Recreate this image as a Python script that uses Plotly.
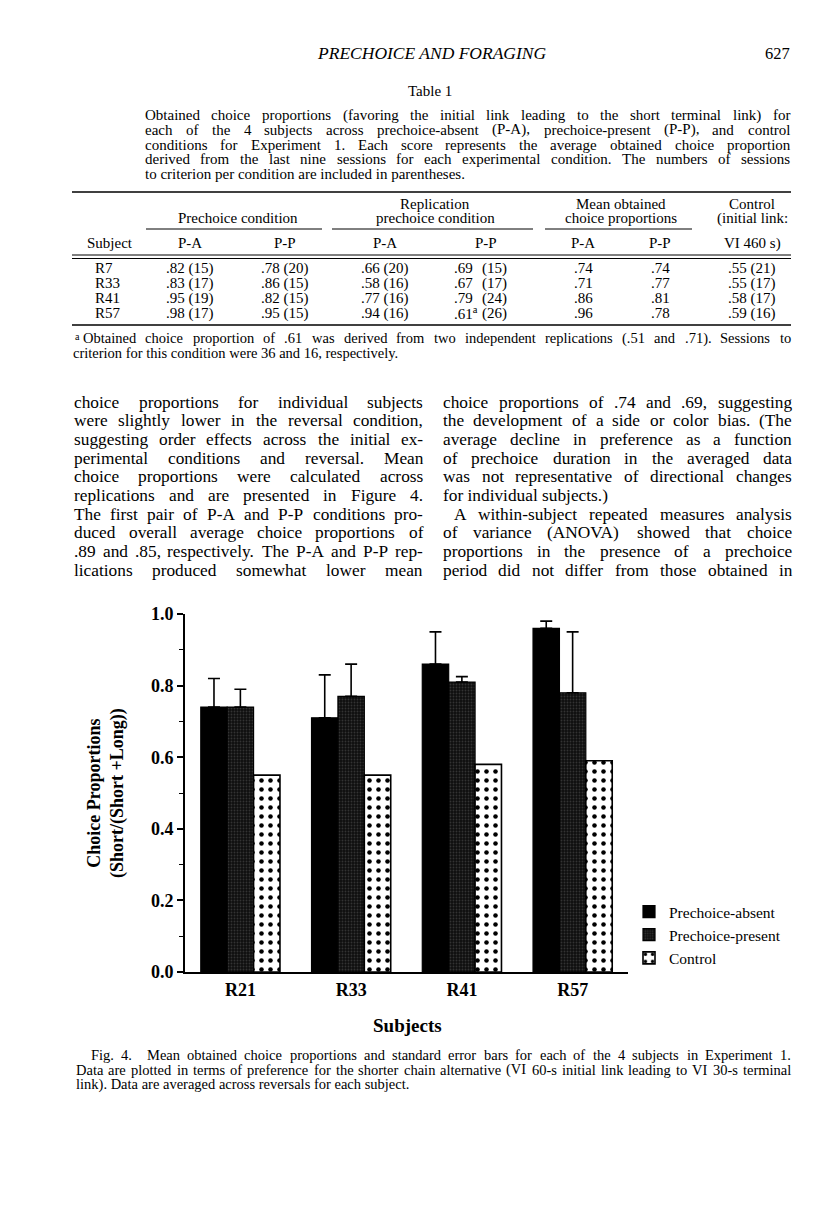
import plotly.graph_objects as go

# ---------------- chart data ----------------
subjects = ["R21", "R33", "R41", "R57"]
absent = [0.74, 0.71, 0.86, 0.96]
present = [0.74, 0.77, 0.81, 0.78]
control = [0.55, 0.55, 0.58, 0.59]
absent_err = [0.08, 0.12, 0.09, 0.02]
present_err = [0.05, 0.09, 0.015, 0.17]
series_names = ["Prechoice-absent", "Prechoice-present", "Control"]
y_ticks = [0.0, 0.2, 0.4, 0.6, 0.8, 1.0]

# ---------------- table data ----------------
tbl_subjects = ["R7", "R33", "R41", "R57"]
tbl_pa1 = [".82 (15)", ".83 (17)", ".95 (19)", ".98 (17)"]
tbl_pp1 = [".78 (20)", ".86 (15)", ".82 (15)", ".95 (15)"]
tbl_pa2 = [".66 (20)", ".58 (16)", ".77 (16)", ".94 (16)"]
tbl_pp2_val = [".69", ".67", ".79", ".61<sup>a</sup>"]
tbl_pp2_n = ["(15)", "(17)", "(24)", "(26)"]
tbl_mpa = [".74", ".71", ".86", ".96"]
tbl_mpp = [".74", ".77", ".81", ".78"]
tbl_ctrl = [".55 (21)", ".55 (17)", ".58 (17)", ".59 (16)"]

table_caption = [
    "Obtained choice proportions (favoring the initial link leading to the short terminal link) for",
    "each of the 4 subjects across prechoice-absent (P-A), prechoice-present (P-P), and control",
    "conditions for Experiment 1. Each score represents the average obtained choice proportion",
    "derived from the last nine sessions for each experimental condition. The numbers of sessions",
    "to criterion per condition are included in parentheses.",
]
footnote = [
    "Obtained choice proportion of .61 was derived from two independent replications (.51 and .71). Sessions to",
    "criterion for this condition were 36 and 16, respectively.",
]
left_col = [
    "choice proportions for individual subjects",
    "were slightly lower in the reversal condition,",
    "suggesting order effects across the initial ex-",
    "perimental conditions and reversal. Mean",
    "choice proportions were calculated across",
    "replications and are presented in Figure 4.",
    "The first pair of P-A and P-P conditions pro-",
    "duced overall average choice proportions of",
    ".89 and .85, respectively. The P-A and P-P rep-",
    "lications produced somewhat lower mean",
]
right_col = [
    "choice proportions of .74 and .69, suggesting",
    "the development of a side or color bias. (The",
    "average decline in preference as a function",
    "of prechoice duration in the averaged data",
    "was not representative of directional changes",
    "for individual subjects.)",
    "A within-subject repeated measures analysis",
    "of variance (ANOVA) showed that choice",
    "proportions in the presence of a prechoice",
    "period did not differ from those obtained in",
]
fig_caption = [
    "Fig. 4.\u00a0\u00a0 Mean obtained choice proportions and standard error bars for each of the 4 subjects in Experiment 1.",
    "Data are plotted in terms of preference for the shorter chain alternative (VI 60-s initial link leading to VI 30-s terminal",
    "link). Data are averaged across reversals for each subject.",
]

# ---------------- page geometry (reference page pixels) ----------------
PAGE_W, PAGE_H = 816, 1207
BODY_MARGIN = 8                      # browser default body margin
W, H = PAGE_W - 2 * BODY_MARGIN, PAGE_H - 2 * BODY_MARGIN
PL, PR, PT, PB = 185, 628, 614, 972  # plot area on the page
SERIF = "Liberation Serif"


def px(x):
    return (x - PL) / (PR - PL)


def py(y):
    return (PB - y) / (PB - PT)


TIMES = {' ': 250, '!': 333, '"': 408, '#': 500, '$': 500, '%': 833, '&': 778, "'": 333,
         '(': 333, ')': 333, '*': 500, '+': 564, ',': 250, '-': 333, '.': 250, '/': 278,
         ':': 278, ';': 278, '<': 564, '=': 564, '>': 564, '?': 444, '@': 921,
         'A': 722, 'B': 667, 'C': 667, 'D': 722, 'E': 611, 'F': 556, 'G': 722, 'H': 722,
         'I': 333, 'J': 389, 'K': 722, 'L': 611, 'M': 889, 'N': 722, 'O': 722, 'P': 556,
         'Q': 722, 'R': 667, 'S': 556, 'T': 611, 'U': 722, 'V': 722, 'W': 944, 'X': 722,
         'Y': 722, 'Z': 611, 'a': 444, 'b': 500, 'c': 444, 'd': 500, 'e': 444, 'f': 333,
         'g': 500, 'h': 500, 'i': 278, 'j': 278, 'k': 500, 'l': 278, 'm': 778, 'n': 500,
         'o': 500, 'p': 500, 'q': 500, 'r': 333, 's': 389, 't': 278, 'u': 500, 'v': 500,
         'w': 722, 'x': 500, 'y': 500, 'z': 444, '\u00a0': 250}
for d in "0123456789":
    TIMES[d] = 500


def tw(s, size):
    return sum(TIMES.get(c, 500) for c in s) * size / 1000.0


def fit_size(lines, width, factor, cap):
    return min(cap, min(width / tw(s, 1.0) for s in lines) * factor)


annotations = []


def txt(x, y, text, size, anchor="left", weight="normal", style="normal", angle=0):
    annotations.append(dict(
        x=px(x), y=py(y), xref="paper", yref="paper", text=text, showarrow=False,
        xanchor=anchor, yanchor="middle", textangle=angle, borderpad=0,
        font=dict(family=SERIF, size=size, color="black", weight=weight, style=style),
    ))


def line_text(x0, x1, y, s, size, justify=True):
    words = s.split(" ")
    if not justify or len(words) < 2:
        txt(x0, y, s, size)
        return
    widths = [tw(w, size) for w in words]
    gap = (x1 - x0 - sum(widths)) / (len(words) - 1)
    x = x0
    for w, wd in zip(words, widths):
        txt(x, y, w, size)
        x += wd + gap


# header
txt(431, 53, "PRECHOICE AND FORAGING", 17.5, anchor="center", style="italic")
txt(791, 53, "627", 16.5, anchor="right")
txt(430, 91, "Table 1", 15, anchor="center")

# table caption
cap_size = fit_size(table_caption[:4], 789 - 144, 0.92, 15)
for i, s in enumerate(table_caption):
    line_text(144, 789, 115 + i * 14.8, s, cap_size, justify=(i < len(table_caption) - 1))

# table
TF = 15
col_pa1, col_pp1, col_pa2, col_mpa, col_mpp, col_ctrl = 190, 285, 385, 583, 660, 752
txt(435, 204, "Replication", TF, anchor="center")
txt(621, 204, "Mean obtained", TF, anchor="center")
txt(752, 204, "Control", TF, anchor="center")
txt(238, 218, "Prechoice condition", TF, anchor="center")
txt(435, 218, "prechoice condition", TF, anchor="center")
txt(621, 218, "choice proportions", TF, anchor="center")
txt(752, 218, "(initial link:", TF, anchor="center")
txt(110, 243, "Subject", TF, anchor="center")
for c, lab in zip([col_pa1, col_pp1, col_pa2, 486, col_mpa, col_mpp], ["P-A", "P-P"] * 3):
    txt(c, 243, lab, TF, anchor="center")
txt(752, 243, "VI 460 s)", TF, anchor="center")

row_y = [268, 283, 298, 313]
for i, yy in enumerate(row_y):
    txt(94, yy, tbl_subjects[i], TF)
    txt(col_pa1, yy, tbl_pa1[i], TF, anchor="center")
    txt(col_pp1, yy, tbl_pp1[i], TF, anchor="center")
    txt(col_pa2, yy, tbl_pa2[i], TF, anchor="center")
    txt(453, yy, tbl_pp2_val[i], TF)
    txt(481, yy, tbl_pp2_n[i], TF)
    txt(col_mpa, yy, tbl_mpa[i], TF, anchor="center")
    txt(col_mpp, yy, tbl_mpp[i], TF, anchor="center")
    txt(col_ctrl, yy, tbl_ctrl[i], TF, anchor="center")

# footnote
foot_size = fit_size(footnote[:1], 790 - 82, 0.93, 14.5)
txt(74, 336, "<sup>a</sup>", foot_size)
line_text(82, 790, 338, footnote[0], foot_size)
line_text(72, 790, 352.5, footnote[1], foot_size, justify=False)

# body text
body_size = fit_size([s for s in left_col] + [s for i, s in enumerate(right_col) if i not in (5, 6)],
                     349, 0.94, 18.5)
body_y0, body_dy = 402, 18.7
for i, s in enumerate(left_col):
    line_text(73, 422, body_y0 + i * body_dy, s, body_size)
for i, s in enumerate(right_col):
    x0 = 453 if i == 6 else 442
    line_text(x0, 791, body_y0 + i * body_dy, s, body_size, justify=(i != 5))

# figure caption
figcap_size = fit_size(fig_caption[1:2], 790 - 75, 0.96, 15)
for i, s in enumerate(fig_caption):
    x0 = 90 if i == 0 else 75
    line_text(x0, 790, 1055 + i * 14.5, s, figcap_size, justify=(i < 2))

# chart axis titles
annotations.append(dict(
    x=px(106), y=py(793), xref="paper", yref="paper", showarrow=False,
    text="Choice Proportions<br>(Short/(Short +Long))", textangle=-90,
    xanchor="center", yanchor="middle",
    font=dict(family=SERIF, size=18, color="black", weight="bold"),
))
txt(407, 1025, "Subjects", 19, anchor="center", weight="bold")

# table rules
shapes = []


def rule(x0, x1, y, w):
    shapes.append(dict(type="line", xref="paper", yref="paper", x0=px(x0), x1=px(x1),
                       y0=py(y), y1=py(y), line=dict(color="black", width=w)))


rule(72, 791, 192, 1.6)
rule(146, 322, 229, 1.0)
rule(332, 533, 229, 1.0)
rule(545, 692, 229, 1.0)
rule(72, 791, 255, 1.0)
rule(72, 791, 258.5, 1.0)
rule(72, 791, 325, 1.4)

# ---------------- chart ----------------
fig = go.Figure()
fig.add_trace(go.Bar(
    name=series_names[0], x=subjects, y=absent,
    marker=dict(color="#000000", line=dict(color="black", width=1.2)),
    error_y=dict(type="data", array=absent_err, arrayminus=[0] * 4, symmetric=False,
                 color="black", thickness=1.6, width=6),
))
fig.add_trace(go.Bar(
    name=series_names[1], x=subjects, y=present,
    marker=dict(color="#111111", line=dict(color="black", width=1.2),
                pattern=dict(shape=".", fgcolor="#333333", bgcolor="#0e0e0e",
                             size=3, solidity=0.3, fillmode="replace")),
    error_y=dict(type="data", array=present_err, arrayminus=[0] * 4, symmetric=False,
                 color="black", thickness=1.6, width=6),
))
fig.add_trace(go.Bar(
    name=series_names[2], x=subjects, y=control,
    marker=dict(color="white", line=dict(color="black", width=1.6),
                pattern=dict(shape=".", fgcolor="black", bgcolor="white",
                             size=9, solidity=0.2, fillmode="replace")),
))

fig.update_layout(
    width=W, height=H,
    margin=dict(l=PL - BODY_MARGIN, r=W - (PR - BODY_MARGIN), t=PT - BODY_MARGIN,
                b=H - (PB - BODY_MARGIN), autoexpand=False),
    paper_bgcolor="white", plot_bgcolor="white",
    barmode="group", bargap=0.285, bargroupgap=0,
    showlegend=True,
    legend=dict(x=px(629), y=py(895), xanchor="left", yanchor="top",
                font=dict(family=SERIF, size=15.5, color="black"),
                bgcolor="rgba(0,0,0,0)", tracegroupgap=0, itemwidth=30),
    annotations=annotations,
    shapes=shapes,
    font=dict(family=SERIF, color="black"),
)
fig.update_xaxes(
    range=[-0.5, 3.5], showline=True, linecolor="black", linewidth=2, ticks="",
    showgrid=False, zeroline=False,
    tickfont=dict(family=SERIF, size=18, color="black", weight="bold"),
)
fig.update_yaxes(
    range=[0, 1.0], tickvals=y_ticks, ticktext=[f"{v:.1f}" for v in y_ticks],
    ticks="outside", ticklen=6, tickwidth=1.6, tickcolor="black",
    minor=dict(dtick=0.1, ticks="outside", ticklen=4, tickwidth=1.2, tickcolor="black"),
    showline=True, linecolor="black", linewidth=2, showgrid=False, zeroline=False,
    tickfont=dict(family=SERIF, size=18, color="black", weight="bold"),
)

fig.write_html("out.html")
